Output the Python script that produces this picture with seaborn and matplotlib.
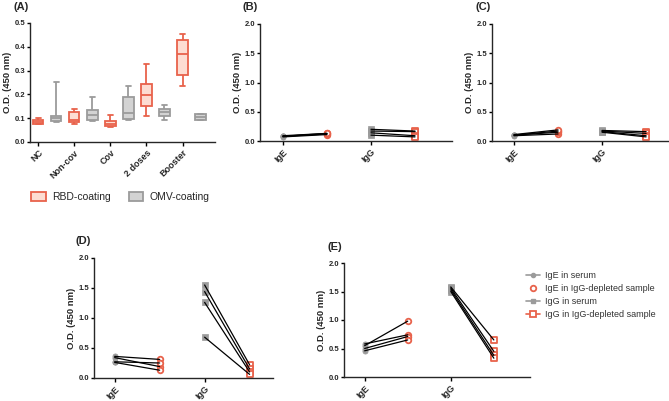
import numpy as np
import pandas as pd
import matplotlib
matplotlib.use("Agg")
import matplotlib.pyplot as plt
import seaborn as sns
from matplotlib.patches import Patch
from matplotlib.lines import Line2D

# ==========================================
# Data
# ==========================================

# (A) box plots, five numbers per box: min, q1, median, q3, max
groups = ["NC", "Non-cov", "Cov", "2 doses", "Booster"]
rbd_boxes = [
    [0.074, 0.077, 0.085, 0.093, 0.102],
    [0.077, 0.084, 0.094, 0.126, 0.140],
    [0.063, 0.066, 0.076, 0.087, 0.112],
    [0.111, 0.150, 0.199, 0.245, 0.329],
    [0.234, 0.280, 0.371, 0.427, 0.455],
]
omv_boxes = [
    [0.084, 0.088, 0.102, 0.108, 0.252],
    [0.088, 0.091, 0.112, 0.133, 0.189],
    [0.094, 0.098, 0.123, 0.189, 0.235],
    [0.094, 0.108, 0.126, 0.140, 0.154],
    [0.091, 0.092, 0.105, 0.116, 0.119],
]

# (B)-(E) paired samples: serum vs IgG-depleted
isotypes = ["IgE", "IgG"]
b_ige_serum = [0.07, 0.08, 0.08, 0.09]
b_ige_depl = [0.11, 0.12, 0.13, 0.13]
b_igg_serum = [0.20, 0.17, 0.14, 0.10]
b_igg_depl = [0.17, 0.16, 0.09, 0.07]

c_ige_serum = [0.09, 0.10, 0.10, 0.11]
c_ige_depl = [0.12, 0.15, 0.17, 0.19]
c_igg_serum = [0.18, 0.17, 0.16, 0.15]
c_igg_depl = [0.16, 0.13, 0.09, 0.07]

d_ige_serum = [0.36, 0.34, 0.27, 0.26]
d_ige_depl = [0.31, 0.19, 0.25, 0.13]
d_igg_serum = [1.55, 1.44, 1.26, 0.68]
d_igg_depl = [0.22, 0.15, 0.10, 0.06]

e_ige_serum = [0.58, 0.55, 0.50, 0.46]
e_ige_depl = [0.74, 0.98, 0.71, 0.65]
e_igg_serum = [1.58, 1.56, 1.53, 1.50]
e_igg_depl = [0.65, 0.45, 0.38, 0.33]

RED = "#E8624B"
RED_FILL = "#FDDDD2"
GREY = "#9B9B9B"
GREY_FILL = "#D3D3D3"

sns.set_style("ticks")
plt.rcParams["font.family"] = ["Liberation Sans", "DejaVu Sans"]
plt.rcParams["axes.linewidth"] = 1.0
plt.rcParams["xtick.major.size"] = 3
plt.rcParams["ytick.major.size"] = 2.5

fig = plt.figure(figsize=(6.69, 4.01), dpi=100)
W, H = 669, 401


def add_axes(left, right, top, bottom):
    return fig.add_axes([left / W, 1 - bottom / H, (right - left) / W, (bottom - top) / H])


def style_axis(ax):
    sns.despine(ax=ax)
    ax.tick_params(axis="y", labelsize=5.5, width=1.0, color="black", pad=1)
    ax.tick_params(axis="x", labelsize=6.5, width=1.0, color="black", pad=1.5)
    for lab in ax.get_xticklabels() + ax.get_yticklabels():
        lab.set_fontweight("bold")
    ax.set_ylabel("O.D. (450 nm)", fontsize=6.8, fontweight="bold", labelpad=2)
    ax.set_xlabel("")
    for lab in ax.get_xticklabels():
        lab.set_rotation(45)
        lab.set_ha("right")
        lab.set_rotation_mode("anchor")


# ==========================================
# (A) box plots
# ==========================================
rows = []
for i, g in enumerate(groups):
    for v in rbd_boxes[i]:
        rows.append((2 * i, "RBD-coating", v))
    for v in omv_boxes[i]:
        rows.append((2 * i + 1, "OMV-coating", v))
box_df = pd.DataFrame(rows, columns=["pos", "coating", "od"])

axA = add_axes(30, 215, 23, 142)
sns.boxplot(data=box_df[box_df.coating == "RBD-coating"], x="pos", y="od",
            native_scale=True, whis=(0, 100), width=0.29, color=RED_FILL,
            saturation=1, linecolor=RED, linewidth=1.3, ax=axA)
sns.boxplot(data=box_df[box_df.coating == "OMV-coating"], x="pos", y="od",
            native_scale=True, whis=(0, 100), width=0.29, color=GREY_FILL,
            saturation=1, linecolor=GREY, linewidth=1.3, ax=axA)
axA.set_xlim(-0.45, 9.8)
axA.set_ylim(0, 0.5)
axA.set_yticks(np.arange(0, 0.51, 0.1))
axA.set_yticklabels([f"{v:.1f}" for v in np.arange(0, 0.51, 0.1)])
axA.set_xticks([0, 2, 4, 6, 8])
axA.set_xticklabels(groups)
style_axis(axA)

fig.legend(handles=[Patch(facecolor=RED_FILL, edgecolor=RED, linewidth=1.3),
                    Patch(facecolor=GREY_FILL, edgecolor=GREY, linewidth=1.3)],
           labels=["RBD-coating", "OMV-coating"], loc="center left",
           bbox_to_anchor=(22 / W, 1 - 197 / H), ncol=2, frameon=False,
           fontsize=7.5, handlelength=1.4, handleheight=0.9, columnspacing=1.7,
           handletextpad=0.6)


# ==========================================
# (B)-(E) paired plots
# ==========================================
def paired_panel(ax, ige_s, ige_d, igg_s, igg_d, xlim):
    rows = []
    for k, (s, d) in enumerate(zip(ige_s, ige_d)):
        rows.append(("IgE", "serum", 0.0, s, f"e{k}"))
        rows.append(("IgE", "depleted", 0.5, d, f"e{k}"))
    for k, (s, d) in enumerate(zip(igg_s, igg_d)):
        rows.append(("IgG", "serum", 1.0, s, f"g{k}"))
        rows.append(("IgG", "depleted", 1.5, d, f"g{k}"))
    df = pd.DataFrame(rows, columns=["iso", "sample", "x", "od", "pair"])

    sel = lambda iso, smp: df[(df.iso == iso) & (df["sample"] == smp)]
    sns.scatterplot(data=sel("IgE", "serum"), x="x", y="od", marker="o", s=14,
                    color=GREY, edgecolor=GREY, linewidth=0.5, ax=ax, zorder=2)
    sns.scatterplot(data=sel("IgE", "depleted"), x="x", y="od", marker="o", s=16,
                    color="white", edgecolor=RED, linewidth=1.3, ax=ax, zorder=2)
    sns.scatterplot(data=sel("IgG", "serum"), x="x", y="od", marker="s", s=16,
                    color=GREY, edgecolor=GREY, linewidth=0.5, ax=ax, zorder=2)
    sns.scatterplot(data=sel("IgG", "depleted"), x="x", y="od", marker="s", s=16,
                    color="white", edgecolor=RED, linewidth=1.3, ax=ax, zorder=2)
    sns.lineplot(data=df, x="x", y="od", units="pair", estimator=None,
                 color="black", linewidth=0.9, ax=ax, zorder=3)

    ax.set_xlim(*xlim)
    ax.set_ylim(0, 2.0)
    ax.set_yticks(np.arange(0, 2.01, 0.5))
    ax.set_yticklabels([f"{v:.1f}" for v in np.arange(0, 2.01, 0.5)])
    ax.set_xticks([0, 1])
    ax.set_xticklabels(isotypes)
    style_axis(ax)


axB = add_axes(260, 452, 24, 141)
paired_panel(axB, b_ige_serum, b_ige_depl, b_igg_serum, b_igg_depl, (-0.26, 1.92))

axC = add_axes(492, 669, 24, 141)
paired_panel(axC, c_ige_serum, c_ige_depl, c_igg_serum, c_igg_depl, (-0.25, 1.76))

axD = add_axes(94, 273, 258, 378)
paired_panel(axD, d_ige_serum, d_ige_depl, d_igg_serum, d_igg_depl, (-0.23, 1.76))

axE = add_axes(344, 530, 263, 377)
paired_panel(axE, e_ige_serum, e_ige_depl, e_igg_serum, e_igg_depl, (-0.24, 1.92))

legend_handles = [
    Line2D([], [], color=GREY, marker="o", ms=3, lw=1.2),
    Line2D([], [], color=RED, marker="o", mfc="white", ms=4, mew=1.3, lw=0),
    Line2D([], [], color=GREY, marker="s", ms=3.5, lw=1.2),
    Line2D([], [], color=RED, marker="s", mfc="white", ms=4, mew=1.3, lw=1.2),
]
legend_labels = ["IgE in serum", "IgE in IgG-depleted sample",
                 "IgG in serum", "IgG in IgG-depleted sample"]
fig.legend(handles=legend_handles, labels=legend_labels, loc="upper left",
           bbox_to_anchor=(518 / W, 1 - 263 / H), frameon=False, fontsize=6.5,
           handlelength=1.5, labelspacing=0.45, handletextpad=0.6,
           labelcolor="#333333")

# panel letters
for txt, x, y in [("(A)", 14, 7), ("(B)", 242, 7), ("(C)", 475, 7),
                  ("(D)", 75, 241), ("(E)", 327, 247)]:
    fig.text(x / W, 1 - y / H, txt, fontsize=8, fontweight="bold", va="center")

fig.savefig("out.png", dpi=100)
